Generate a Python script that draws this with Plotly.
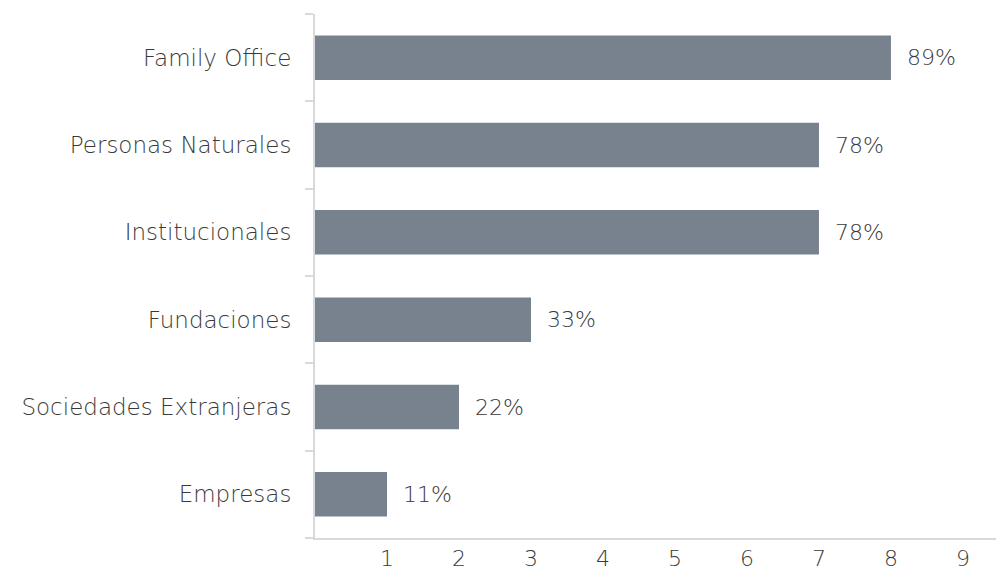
import plotly.graph_objects as go

categories = ["Family Office", "Personas Naturales", "Institucionales",
              "Fundaciones", "Sociedades Extranjeras", "Empresas"]
values = [8, 7, 7, 3, 2, 1]
labels = ["89%", "78%", "78%", "33%", "22%", "11%"]
x_ticks = [1, 2, 3, 4, 5, 6, 7, 8, 9]

FONT = "DejaVu Sans"
TEXT_COLOR = "#3a3a3a"
BAR_COLOR = "#78828e"
AXIS_COLOR = "#d9d9d9"

fig = go.Figure()
fig.add_trace(go.Bar(
    y=categories, x=values, orientation="h",
    marker=dict(color=BAR_COLOR, line=dict(width=0)),
    hoverinfo="skip",
))

for cat, v, lab in zip(categories, values, labels):
    fig.add_annotation(x=v, y=cat, text=lab, showarrow=False,
                       xanchor="left", yanchor="middle", xshift=14,
                       font=dict(family=FONT, size=22, color=TEXT_COLOR, weight=300))

fig.update_layout(
    width=996, height=564,
    margin=dict(l=307, r=1, t=6, b=32),
    paper_bgcolor="white", plot_bgcolor="white",
    bargap=0.49,
    showlegend=False,
    font=dict(family=FONT, size=22, color=TEXT_COLOR, weight=300),
)
fig.update_yaxes(
    categoryorder="array", categoryarray=categories[::-1],
    showline=True, linecolor=AXIS_COLOR, linewidth=2,
    ticks="outside", tickson="boundaries", ticklen=8, tickcolor=AXIS_COLOR, tickwidth=2,
    showgrid=False, zeroline=False,
    tickfont=dict(family=FONT, size=23, color=TEXT_COLOR, weight=300),
    ticklabelstandoff=17,
)
fig.update_xaxes(
    range=[0, 9.556], tickvals=x_ticks,
    showline=True, linecolor=AXIS_COLOR, linewidth=2,
    showgrid=False, zeroline=False, ticks="",
    tickfont=dict(family=FONT, size=22, color=TEXT_COLOR, weight=300),
)

fig.write_html("out.html")
